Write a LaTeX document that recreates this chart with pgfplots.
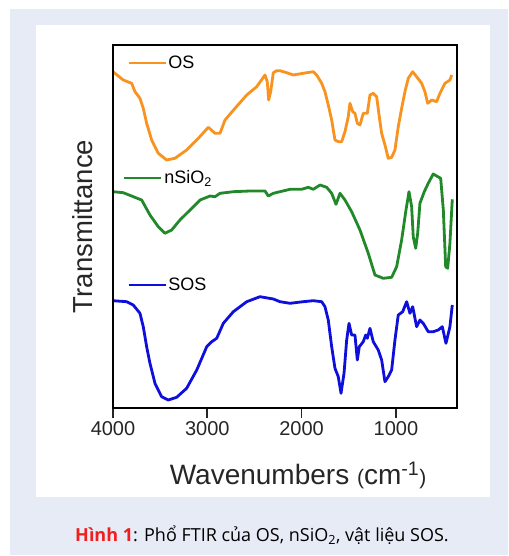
\documentclass[border=0pt]{standalone}
\usepackage{fontspec}
\setmainfont{Liberation Sans}
\newfontfamily\capfont{Open Sans}
\usepackage{pgfplots}
\pgfplotsset{compat=1.18}
\definecolor{bgblue}{HTML}{E7EBF5}
\definecolor{osor}{HTML}{F7931E}
\definecolor{sigreen}{HTML}{22892A}
\definecolor{sosblue}{HTML}{0F0FDC}
\definecolor{capred}{HTML}{F01E1E}

% spectra; y is an arbitrary offset transmittance
\pgfplotstableread{
wn y
4000 -71.7
3891 -80
3802 -83.3
3767 -91.7
3714 -98.3
3679 -108.3
3643 -123.3
3590 -140
3520 -153.3
3431 -160
3343 -158.3
3219 -150
3095 -138.3
2989 -127.3
2918 -133.3
2865 -133.3
2812 -120
2706 -108.3
2582 -95
2476 -86.7
2388 -75
2364 -81.7
2349 -100
2328 -91.7
2300 -72.7
2264 -70.7
2229 -70.7
2158 -72.7
2088 -75
1982 -73.3
1876 -71.7
1840 -75
1787 -83.3
1752 -91.7
1717 -105
1681 -120
1646 -140
1611 -141.7
1575 -141.7
1540 -131.7
1505 -116.7
1487 -103.3
1458 -111.7
1434 -113.3
1409 -123.3
1381 -125
1346 -113.3
1303 -113.3
1275 -95
1240 -93.3
1204 -96.7
1176 -116.7
1151 -133.3
1116 -145
1081 -158.3
1045 -157.3
1010 -150
975 -126.7
939 -108.3
904 -91.7
869 -78.3
822 -71.7
780 -76.7
727 -83.3
692 -91.7
663 -103.3
620 -100
568 -101.7
533 -93.3
479 -83.3
427 -80
408 -75
}\os

\pgfplotstableread{
wn y
4000 -191.7
3891 -192.7
3785 -196.7
3696 -200
3608 -215
3520 -226.7
3449 -233.3
3378 -230
3290 -220
3183 -210
3077 -200
2971 -196
2918 -196.7
2865 -193.3
2724 -191.7
2547 -191
2388 -191
2353 -196
2300 -193.3
2229 -191.7
2123 -189.3
1999 -189.3
1929 -187.3
1876 -189.3
1805 -185
1734 -187.3
1681 -193.3
1635 -204.3
1593 -193.3
1540 -200
1469 -211.7
1381 -230
1293 -253.3
1222 -275
1134 -278.3
1045 -277.3
992 -266.7
939 -240
893 -210
861 -191.7
833 -206.7
816 -236.7
790 -248.3
769 -233.3
745 -203.3
699 -191.7
657 -183.3
604 -174
568 -176
525 -178.3
497 -210
472 -266.7
451 -268.3
427 -243.3
402 -199.3
}\nsio

\pgfplotstableread{
wn y
4000 -300.7
3855 -301.7
3785 -305
3714 -313.3
3679 -326.7
3643 -346.7
3608 -363.3
3555 -383.3
3484 -396.7
3414 -400
3325 -397.3
3219 -388.3
3112 -370
3006 -346.7
2953 -341.7
2900 -338.3
2830 -323.3
2724 -311.7
2582 -301.7
2441 -296.7
2300 -299
2229 -301.7
2123 -303.3
1982 -301.7
1876 -300.7
1787 -301.7
1752 -306.7
1717 -320
1681 -346.7
1646 -368.3
1611 -376.7
1582 -393.3
1550 -373.3
1522 -340
1497 -323.3
1469 -335
1434 -335
1409 -360
1388 -346.7
1346 -341.7
1320 -335
1303 -338.3
1275 -328.3
1240 -341.7
1187 -350
1151 -360
1116 -381.7
1081 -376.7
1045 -370
1010 -340
975 -315
928 -311.7
886 -301.7
851 -313.3
822 -306.7
780 -326.7
745 -320
710 -323.3
657 -331.7
604 -331.7
551 -330
508 -326.7
469 -343.3
427 -326.7
402 -305
}\sos

\pgfplotsset{
  base/.style={
    scale only axis, width=344pt, height=363pt,
    at={(113pt,-408pt)}, anchor=south west,
    x dir=reverse, xmin=352, xmax=4000, ymin=-408, ymax=-45,
    legend style={draw=none, fill=none, anchor=west,
      font=\fontsize{18}{20}\selectfont, inner sep=0pt,
      nodes={inner sep=1.5pt}},
    legend image code/.code={\draw[##1, line width=2.6pt] (0pt,0pt) -- (37pt,0pt);},
  },
}

\begin{document}
\begin{tikzpicture}
\fill[white] (0pt,0pt) rectangle (508pt,-556pt);
\fill[bgblue] (10pt,-9pt) rectangle (508pt,-555pt);
\fill[white] (36pt,-25pt) rectangle (490pt,-497pt);

\begin{axis}[base,
    axis line style={draw=none},
    xtick={1000,2000,3000,4000}, ytick=\empty,
    tick pos=bottom, tick align=outside,
    major tick length=10pt,
    every tick/.style={black!85, line width=1.8pt},
    /pgf/number format/assume math mode=true,
    /pgf/number format/1000 sep={},
    xticklabel style={font=\fontsize{20}{22}\selectfont, text=black!85},
    xlabel={\fontsize{28}{30}\selectfont Wavenumbers {\fontsize{21}{22}\selectfont(}cm\textsuperscript{-1}{\fontsize{21}{22}\selectfont)}},
    xlabel style={at={(axis description cs:0.538,-0.185)}, anchor=center, text=black!85},
    ylabel={\fontsize{27.5}{30}\selectfont Transmittance},
    ylabel style={at={(axis description cs:-0.087,0.5)}, anchor=center, rotate=0, text=black!85},
    legend style={at={(0.041,0.950)}},
  ]
\addplot[osor, line width=2.8pt, line join=round] table[x=wn, y=y] {\os};
\addlegendentry{OS}
\end{axis}

\begin{axis}[base, hide axis, legend style={at={(0.029,0.634)}}]
\addplot[sigreen, line width=2.8pt, line join=round] table[x=wn, y=y] {\nsio};
\addlegendentry{nSiO\textsubscript{2}}
\end{axis}

\begin{axis}[base, hide axis, legend style={at={(0.041,0.339)}}]
\addplot[sosblue, line width=2.8pt, line join=round] table[x=wn, y=y] {\sos};
\addlegendentry{SOS}
\end{axis}

% plot frame
\draw[black, line width=2.5pt] (113pt,-45pt) -- (457pt,-45pt) -- (457pt,-408pt) -- (113pt,-408pt) -- cycle;

\node[font=\capfont\fontsize{18}{20}\selectfont, anchor=center] at (262pt,-535pt)
  {\textcolor{capred}{\bfseries Hình 1}: Phổ FTIR của OS, nSiO\textsubscript{2}, vật liệu SOS.};
\end{tikzpicture}
\end{document}
